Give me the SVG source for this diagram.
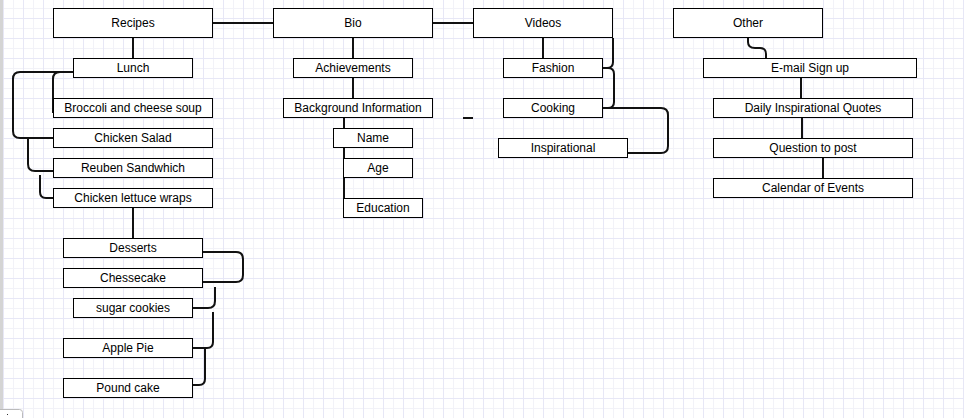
<svg xmlns="http://www.w3.org/2000/svg" width="964" height="418" viewBox="0 0 964 418">
<style>
.n rect{fill:#fff;stroke:#000;stroke-width:1}
.n text{font-family:"Liberation Sans",Arial,sans-serif;font-size:12px;fill:#000;text-anchor:middle}
.c path{fill:none;stroke:#111;stroke-width:2}
</style>
<defs>
<pattern id="grid" x="3" y="18" width="20" height="20" patternUnits="userSpaceOnUse">
<rect x="0" y="0" width="20" height="20" fill="#fff"/>
<rect x="10" y="0" width="1" height="20" fill="#f2f2f8"/>
<rect x="0" y="10" width="20" height="1" fill="#f2f2f8"/>
<rect x="0" y="0" width="1" height="20" fill="#e7e7f6"/>
<rect x="0" y="0" width="20" height="1" fill="#e7e7f6"/>
</pattern>
</defs>
<rect width="964" height="418" fill="url(#grid)"/>
<rect x="0" y="0" width="3" height="418" fill="#d4d4d4"/>
<rect x="-4" y="409.5" width="26.5" height="12" rx="3" fill="#fff" stroke="#bbb"/>
<rect x="7" y="414" width="1" height="1" fill="#333"/>

<g id="connectors" class="c">
<path d="M213,23 H273"/>
<path d="M433,23 H473"/>
<path d="M133,38 V58"/>
<path d="M73,72 H20 Q13,72 13,79 V131 Q13,138 20,138 H53"/>
<path d="M73,72 H60 Q53,72 53,79 V113"/>
<path d="M28,138 V164 Q28,171 35,171 H53"/>
<path d="M40,175 V192 Q40,198 46,198 H53"/>
<path d="M133,208 V238"/>
<path d="M203,252 H236 Q243,252 243,259 V275 Q243,282 236,282 H203"/>
<path d="M215,287 V301 Q215,308 208,308 H193"/>
<path d="M213,312 V342 Q213,348 207,348 H193"/>
<path d="M205,348 V379 Q205,385 199,385 H193"/>
<path d="M353,38 V58"/>
<path d="M353,78 V98"/>
<path d="M344,118 V205"/>
<path d="M463,118 H473"/>
<path d="M543,38 V58"/>
<path d="M613,38 V62 Q613,68 607,68 H603"/>
<path d="M603,68 H608 Q614,68 614,74 V102 Q614,108 608,108 H603"/>
<path d="M603,108 H661 Q668,108 668,115 V146 Q668,153 661,153 H628"/>
<path d="M748,38 V42 Q748,48 755,48 H760 Q766,48 766,54 V58"/>
<path d="M801,78 V98"/>
<path d="M802,118 V138"/>
<path d="M823,158 V178"/>
</g>

<g id="recipes" class="n"><rect x="53.5" y="8.5" width="159" height="29"/><text x="133" y="27">Recipes</text></g>
<g id="lunch" class="n"><rect x="73.5" y="58.5" width="119" height="19"/><text x="133" y="72">Lunch</text></g>
<g id="broccoli" class="n"><rect x="53.5" y="98.5" width="159" height="19"/><text x="133" y="112">Broccoli and cheese soup</text></g>
<g id="chicken-salad" class="n"><rect x="53.5" y="128.5" width="159" height="19"/><text x="133" y="142">Chicken Salad</text></g>
<g id="reuben" class="n"><rect x="53.5" y="158.5" width="159" height="19"/><text x="133" y="172">Reuben Sandwhich</text></g>
<g id="wraps" class="n"><rect x="53.5" y="188.5" width="159" height="19"/><text x="133" y="202">Chicken lettuce wraps</text></g>
<g id="desserts" class="n"><rect x="63.5" y="238.5" width="139" height="19"/><text x="133" y="252">Desserts</text></g>
<g id="chessecake" class="n"><rect x="63.5" y="268.5" width="139" height="19"/><text x="133" y="282">Chessecake</text></g>
<g id="sugar-cookies" class="n"><rect x="73.5" y="298.5" width="119" height="19"/><text x="133" y="312">sugar cookies</text></g>
<g id="apple-pie" class="n"><rect x="63.5" y="338.5" width="129" height="19"/><text x="128" y="352">Apple Pie</text></g>
<g id="pound-cake" class="n"><rect x="63.5" y="378.5" width="129" height="19"/><text x="128" y="392">Pound cake</text></g>

<g id="bio" class="n"><rect x="273.5" y="8.5" width="159" height="29"/><text x="353" y="27">Bio</text></g>
<g id="achievements" class="n"><rect x="293.5" y="58.5" width="119" height="19"/><text x="353" y="72">Achievements</text></g>
<g id="background" class="n"><rect x="283.5" y="98.5" width="149" height="19"/><text x="358" y="112">Background Information</text></g>
<g id="name" class="n"><rect x="333.5" y="128.5" width="79" height="19"/><text x="373" y="142">Name</text></g>
<g id="age" class="n"><rect x="343.5" y="158.5" width="69" height="19"/><text x="378" y="172">Age</text></g>
<g id="education" class="n"><rect x="343.5" y="198.5" width="79" height="19"/><text x="383" y="212">Education</text></g>

<g id="videos" class="n"><rect x="473.5" y="8.5" width="139" height="29"/><text x="543" y="27">Videos</text></g>
<g id="fashion" class="n"><rect x="503.5" y="58.5" width="99" height="19"/><text x="553" y="72">Fashion</text></g>
<g id="cooking" class="n"><rect x="503.5" y="98.5" width="99" height="19"/><text x="553" y="112">Cooking</text></g>
<g id="inspirational" class="n"><rect x="498.5" y="138.5" width="129" height="19"/><text x="563" y="152">Inspirational</text></g>

<g id="other" class="n"><rect x="673.5" y="8.5" width="149" height="29"/><text x="748" y="27">Other</text></g>
<g id="email" class="n"><rect x="703.5" y="58.5" width="213" height="19"/><text x="810" y="72">E-mail Sign up</text></g>
<g id="daily" class="n"><rect x="713.5" y="98.5" width="199" height="19"/><text x="813" y="112">Daily Inspirational Quotes</text></g>
<g id="question" class="n"><rect x="713.5" y="138.5" width="199" height="19"/><text x="813" y="152">Question to post</text></g>
<g id="calendar" class="n"><rect x="713.5" y="178.5" width="199" height="19"/><text x="813" y="192">Calendar of Events</text></g>
</svg>
